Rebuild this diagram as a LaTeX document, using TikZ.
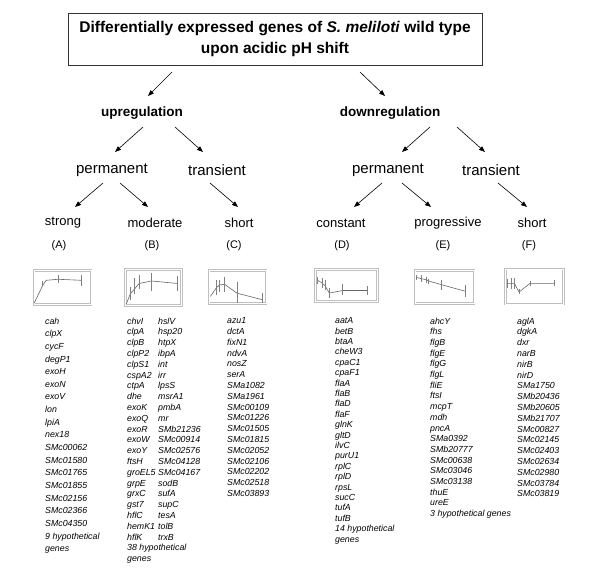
\documentclass[tikz,border=0pt]{standalone}
\usepackage{fontspec}
\setmainfont{Liberation Sans}
\usetikzlibrary{arrows.meta,calc}

\begin{document}
\begin{tikzpicture}[x=1pt, y=-1pt,
    arr/.style={-{Triangle[length=6pt,width=4.5pt]}, line width=0.6pt},
    lvlone/.style={inner sep=0pt, font=\fontsize{13.5}{16}\selectfont\bfseries},
    lvltwo/.style={inner sep=0pt, font=\fontsize{15}{18}\selectfont},
    lvlthree/.style={inner sep=0pt, font=\fontsize{13}{16}\selectfont},
    tag/.style={inner sep=0pt, font=\fontsize{11}{13}\selectfont},
    chart/.style={draw=gray!50, double=white, double distance=1pt, line width=0.8pt, inner sep=0pt},
    curve/.style={line width=0.6pt, black!60},
    bar/.style={line width=0.55pt, black!50},
    genes/.style={anchor=north west, align=left, inner sep=0pt, font=\fontsize{8.8}{#1}\selectfont\itshape},
    genes/.default=10.8,
]
\useasboundingbox[fill=white] (0,0) rectangle (600,576);

% Title
\node[draw=black!80, line width=0.6pt, minimum width=414pt, minimum height=52pt, align=center,
      font=\fontsize{15.5}{21}\selectfont\bfseries] (title) at (275,39)
      {Differentially expressed genes of \textit{S. meliloti} wild type\\upon acidic pH shift};

% Upregulation branch
\node[lvlone] (up) at (142,113) {upregulation};
\node[lvltwo] (permU) at (112,170) {permanent};
\node[lvltwo] (transU) at (217,170) {transient};
\node[lvlthree] (strong) at (63,223) {strong};
\node[lvlthree] (moderate) at (155,223) {moderate};
\node[lvlthree] (shortU) at (239,223) {short};
\node[tag] (labA) at (59,246) {(A)};
\node[tag] (labB) at (152,246) {(B)};
\node[tag] (labC) at (234,246) {(C)};

% Downregulation branch
\node[lvlone] (down) at (390,113) {downregulation};
\node[lvltwo] (permD) at (388,170) {permanent};
\node[lvltwo] (transD) at (491,170) {transient};
\node[lvlthree] (constant) at (341,223) {constant};
\node[lvlthree] (progressive) at (448,223) {progressive};
\node[lvlthree] (shortD) at (532,223) {short};
\node[tag] (labD) at (342,246) {(D)};
\node[tag] (labE) at (443,246) {(E)};
\node[tag] (labF) at (529,246) {(F)};

% Arrows
\draw[arr] ($(title)+(-103,33)$) -- ($(up)+(6,-17)$);
\draw[arr] ($(title)+(85,33)$) -- ($(down)+(-5,-17)$);
\draw[arr] ($(up)+(1,14)$) -- ($(permU)+(3,-18)$);
\draw[arr] ($(up)+(33,14)$) -- ($(transU)+(-14,-18)$);
\draw[arr] ($(permU)+(-9,13)$) -- ($(strong)+(12,-16)$);
\draw[arr] ($(permU)+(8,13)$) -- ($(moderate)+(-7,-16)$);
\draw[arr] ($(transU)+(-7,13)$) -- ($(shortU)+(-1,-16)$);
\draw[arr] ($(down)+(40,14)$) -- ($(permD)+(14,-18)$);
\draw[arr] ($(down)+(67,14)$) -- ($(transD)+(-6,-18)$);
\draw[arr] ($(permD)+(-6,13)$) -- ($(constant)+(13,-16)$);
\draw[arr] ($(permD)+(14,13)$) -- ($(progressive)+(-17,-16)$);
\draw[arr] ($(transD)+(7,13)$) -- ($(shortD)+(-5,-16)$);

% Expression profiles
\node[chart, minimum width=57pt, minimum height=34pt] (chartA) at (62.5,287.5) {};
\node[chart, minimum width=56pt, minimum height=36pt] (chartB) at (153.5,287.5) {};
\node[chart, minimum width=57pt, minimum height=33pt] (chartC) at (237.5,287) {};
\node[chart, minimum width=62pt, minimum height=32pt] (chartD) at (346.5,285.5) {};
\node[chart, minimum width=59pt, minimum height=33pt] (chartE) at (444.5,287) {};
\node[chart, minimum width=58pt, minimum height=35pt] (chartF) at (534.5,286.5) {};

\begin{scope}[shift={(chartA.north west)}, x=57pt, y=-34pt]
  \draw[curve] plot coordinates {(0.01,0.97) (0.16,0.45) (0.22,0.3) (0.43,0.27) (0.84,0.3)};
  \foreach \x/\a/\b in {0.16/0.31/0.44, 0.43/0.15/0.37, 0.84/0.15/0.47}
    \draw[bar] (\x,\a) -- (\x,\b);
\end{scope}
\begin{scope}[shift={(chartB.north west)}, x=56pt, y=-36pt]
  \draw[curve] plot coordinates {(0.02,0.97) (0.09,0.7) (0.17,0.55) (0.25,0.4) (0.47,0.33) (0.94,0.4)};
  \foreach \x/\a/\b in {0.09/0.5/0.85, 0.17/0.25/0.7, 0.25/0.15/0.55, 0.47/0.1/0.6, 0.94/0.2/0.6}
    \draw[bar] (\x,\a) -- (\x,\b);
\end{scope}
\begin{scope}[shift={(chartC.north west)}, x=57pt, y=-33pt]
  \draw[curve] plot coordinates {(0.03,0.8) (0.13,0.55) (0.19,0.45) (0.28,0.43) (0.5,0.7) (0.95,0.9)};
  \foreach \x/\a/\b in {0.13/0.3/0.75, 0.19/0.3/0.65, 0.28/0.2/0.65, 0.5/0.35/1.0, 0.95/0.7/1.0}
    \draw[bar] (\x,\a) -- (\x,\b);
\end{scope}
\begin{scope}[shift={(chartD.north west)}, x=62pt, y=-32pt]
  \draw[curve] plot coordinates {(0.03,0.34) (0.11,0.43) (0.16,0.52) (0.23,0.75) (0.44,0.67) (0.84,0.67)};
  \foreach \x/\a/\b in {0.03/0.25/0.45, 0.11/0.27/0.59, 0.16/0.34/0.65, 0.23/0.59/0.91, 0.44/0.48/0.81, 0.84/0.54/0.81}
    \draw[bar] (\x,\a) -- (\x,\b);
\end{scope}
\begin{scope}[shift={(chartE.north west)}, x=59pt, y=-33pt]
  \draw[curve] plot coordinates {(0.03,0.22) (0.11,0.26) (0.19,0.29) (0.24,0.33) (0.45,0.44) (0.86,0.64)};
  \foreach \x/\a/\b in {0.03/0.15/0.3, 0.11/0.15/0.36, 0.19/0.2/0.39, 0.24/0.26/0.41, 0.45/0.31/0.59, 0.86/0.46/0.82}
    \draw[bar] (\x,\a) -- (\x,\b);
\end{scope}
\begin{scope}[shift={(chartF.north west)}, x=58pt, y=-35pt]
  \draw[curve] plot coordinates {(0.03,0.42) (0.1,0.42) (0.16,0.42) (0.24,0.67) (0.43,0.42) (0.84,0.42)};
  \foreach \x/\a/\b in {0.03/0.3/0.55, 0.1/0.26/0.59, 0.16/0.26/0.57, 0.24/0.57/0.73, 0.43/0.35/0.5, 0.84/0.32/0.51}
    \draw[bar] (\x,\a) -- (\x,\b);
\end{scope}

% Gene lists
\node[genes=12.65] (genesA) at (45,317.5) {cah\\clpX\\cycF\\degP1\\exoH\\exoN\\exoV\\lon\\lpiA\\nex18\\SMc00062\\SMc01580\\SMc01765\\SMc01855\\SMc02156\\SMc02366\\SMc04350\\9 hypothetical\\genes};
\node[genes=10.8] (genesB1) at (127,317.5) {chvI\\clpA\\clpB\\clpP2\\clpS1\\cspA2\\ctpA\\dhe\\exoK\\exoQ\\exoR\\exoW\\exoY\\ftsH\\groEL5\\grpE\\grxC\\gst7\\hflC\\hemK1\\hflK\\38 hypothetical\\genes};
\node[genes=10.8] (genesB2) at (158,317.5) {hslV\\hsp20\\htpX\\ibpA\\int\\irr\\lpsS\\msrA1\\pmbA\\mr\\SMb21236\\SMc00914\\SMc02576\\SMc04128\\SMc04167\\sodB\\sufA\\supC\\tesA\\tolB\\trxB};
\node[genes=10.8] (genesC) at (227,317.5) {azu1\\dctA\\fixN1\\ndvA\\nosZ\\serA\\SMa1082\\SMa1961\\SMc00109\\SMc01226\\SMc01505\\SMc01815\\SMc02052\\SMc02106\\SMc02202\\SMc02518\\SMc03893};
\node[genes=10.4] (genesD) at (335,317.5) {aatA\\betB\\btaA\\cheW3\\cpaC1\\cpaF1\\flaA\\flaB\\flaD\\flaF\\glnK\\gltD\\ilvC\\purU1\\rplC\\rplD\\rpsL\\sucC\\tufA\\tufB\\14 hypothetical\\genes};
\node[genes=10.7] (genesE) at (430,317.5) {ahcY\\fhs\\flgB\\flgE\\flgG\\flgL\\fliE\\ftsI\\mcpT\\mdh\\pncA\\SMa0392\\SMb20777\\SMc00638\\SMc03046\\SMc03138\\thuE\\ureE\\3 hypothetical genes};
\node[genes=10.8] (genesF) at (517,317.5) {aglA\\dgkA\\dxr\\narB\\nirB\\nirD\\SMa1750\\SMb20436\\SMb20605\\SMb21707\\SMc00827\\SMc02145\\SMc02403\\SMc02634\\SMc02980\\SMc03784\\SMc03819};
\end{tikzpicture}
\end{document}
